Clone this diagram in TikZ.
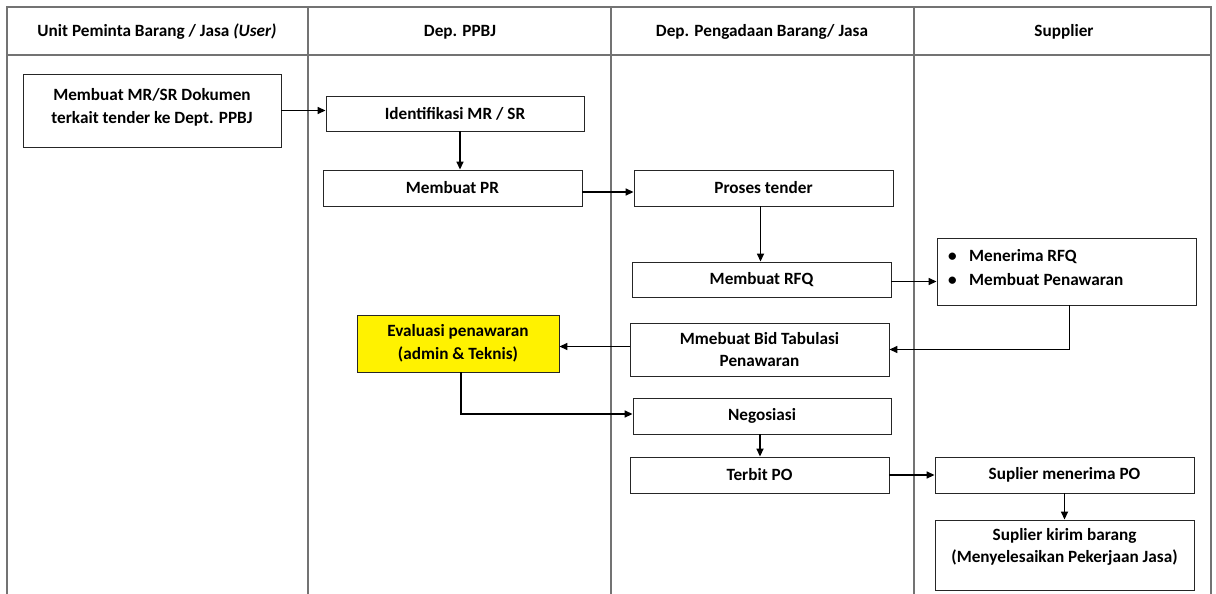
\documentclass[tikz,border=0pt]{standalone}
\usepackage{fontspec}
\setmainfont{Carlito}
\usetikzlibrary{arrows.meta}
\begin{document}
\begin{tikzpicture}[x=1pt,y=-1pt,
  grid/.style={draw=black!55, line width=1.1pt},
  txt/.style={font=\fontsize{17.2}{22.5}\selectfont\bfseries, align=center, inner sep=0pt},
  box/.style={draw=black!85, line width=0.9pt, inner sep=2pt, align=center,
              font=\fontsize{17.2}{22.5}\selectfont\bfseries},
  flow/.style={draw=black, line width=1.6pt, -{Triangle[length=8pt,width=7pt]}}]
\useasboundingbox (0,0) rectangle (1216,594);

% swimlane table
\draw[grid] (7,600) -- (7,7) -- (1211,7) -- (1211,600);
\draw[grid] (7,55) -- (1211,55);
\foreach \xx in {308,611,914} \draw[grid] (\xx,7) -- (\xx,600);

% lane headers
\node[txt] (h1) at (157,32) {Unit Peminta Barang / Jasa \textit{(User)}};
\node[txt] (h2) at (460,32) {Dep. PPBJ};
\node[txt] (h3) at (762,32) {Dep. Pengadaan Barang/ Jasa};
\node[txt] (h4) at (1064,32) {Supplier};

% process steps
\node[box, minimum width=258pt, minimum height=73pt] (b1) at (152,110.5) {};
\node[txt] (b1t) at (152,107.5) {Membuat MR/SR Dokumen\\terkait tender ke Dept. PPBJ};
\node[box, minimum width=258pt, minimum height=35pt] (b2) at (455,113.5) {Identifikasi MR / SR};
\node[box, minimum width=259pt, minimum height=36pt] (b3) at (452.5,188) {Membuat PR};
\node[box, minimum width=259pt, minimum height=36pt] (b4) at (763.5,188) {Proses tender};
\node[box, minimum width=259pt, minimum height=35pt] (b5) at (761.5,279.5) {Membuat RFQ};
\node[box, minimum width=259pt, minimum height=67pt] (b6) at (1066.5,271.5) {};
\node[txt, align=left, anchor=north west] (b6t) at (948,249)
  {\makebox[21pt][l]{\textbullet}Menerima RFQ\\[1.5pt]\makebox[21pt][l]{\textbullet}Membuat Penawaran};
\node[box, fill=yellow, minimum width=202pt, minimum height=57pt] (b7) at (458,343.5)
  {Evaluasi penawaran\\(admin \& Teknis)};
\node[box, minimum width=259pt, minimum height=53pt] (b8) at (759.5,349.5)
  {Mmebuat Bid Tabulasi\\Penawaran};
\node[box, minimum width=258pt, minimum height=36pt] (b9) at (762,416) {Negosiasi};
\node[box, minimum width=259pt, minimum height=36pt] (b10) at (759.5,475) {Terbit PO};
\node[box, minimum width=259pt, minimum height=36pt] (b11) at (1064.5,475) {Suplier menerima PO};
\node[box, minimum width=259pt, minimum height=70pt] (b12) at (1064.5,555) {};
\node[txt] (b12t) at (1064.5,547) {Suplier kirim barang\\(Menyelesaikan Pekerjaan Jasa)};

% connectors
\draw[flow] (b1.east) -- (b1.east -| b2.west);
\draw[flow] ([xshift=5pt]b2.south) -- ([xshift=5pt]b2.south |- b3.north);
\draw[flow] ([yshift=-4pt]b3.east) -- ([yshift=-4pt]b4.west);
\draw[flow] ([xshift=-3pt]b4.south) -- ([xshift=-3pt]b4.south |- b5.north);
\draw[flow] ([yshift=-2pt]b5.east) -- ([yshift=-2pt]b5.east -| b6.west);
\draw[flow] ([xshift=3pt]b6.south) |- (b8.east);
\draw[flow] ([yshift=-3pt]b7.east -| b8.west) -- ([yshift=-3pt]b7.east);
\draw[flow] ([xshift=3pt]b7.south) |- ([yshift=2pt]b9.west);
\draw[flow] ([xshift=-2pt]b9.south) -- ([xshift=-2pt]b9.south |- b10.north);
\draw[flow] (b10.east) -- (b11.west);
\draw[flow] (b11.south) -- (b12.north);
\end{tikzpicture}
\end{document}
